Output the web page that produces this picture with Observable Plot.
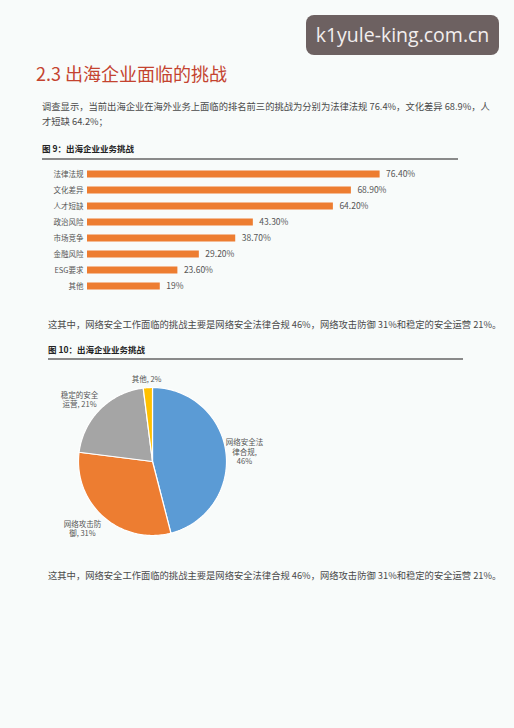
<!DOCTYPE html>
<html><head><meta charset="utf-8">
<script src="https://cdn.jsdelivr.net/npm/d3@7"></script>
<script src="https://cdn.jsdelivr.net/npm/@observablehq/plot@0.6"></script>
<style>
html,body{margin:0;padding:0;}
body{width:514px;height:728px;background:#f8fbfa;position:relative;overflow:hidden;font-family:"Noto Sans CJK SC","Noto Sans",sans-serif;}
.abs{position:absolute;white-space:nowrap;}
.wm{left:306px;top:15px;width:193px;height:40px;background:#6d6161;border-radius:8px;color:#f2eeee;font-family:"Open Sans",sans-serif;font-size:19.5px;line-height:40px;text-align:center;}
.h2{left:36px;top:60px;color:#c4432f;font-size:18px;line-height:26px;}
.p{color:#4a4a4a;font-size:9.3px;line-height:15px;}
.ft{color:#222;font-size:8.5px;font-weight:bold;line-height:12px;}
.rule{height:1.5px;background:#8a8a8a;}
</style></head><body>
<div class="abs wm">k1yule-king.com.cn</div>
<div class="abs h2">2.3 出海企业面临的挑战</div>
<div class="abs p" style="left:42px;top:99px;">调查显示，当前出海企业在海外业务上面临的排名前三的挑战为分别为法律法规 76.4%，文化差异 68.9%，人<br>才短缺 64.2%；</div>
<div class="abs ft" style="left:42px;top:142px;">图 9：出海企业业务挑战</div>
<div class="abs rule" style="left:42px;top:158px;width:416px;"></div>
<div id="bar" class="abs" style="left:30px;top:160px;"></div>
<div class="abs p" style="left:48px;top:317px;">这其中，网络安全工作面临的挑战主要是网络安全法律合规 46%，网络攻击防御 31%和稳定的安全运营 21%。</div>
<div class="abs ft" style="left:48px;top:343px;">图 10：出海企业业务挑战</div>
<div class="abs rule" style="left:48px;top:358px;width:415px;"></div>
<div id="pie" class="abs" style="left:30px;top:365px;"></div>
<div class="abs p" style="left:48px;top:568px;">这其中，网络安全工作面临的挑战主要是网络安全法律合规 46%，网络攻击防御 31%和稳定的安全运营 21%。</div>
<script>
// ---- data ----
const barCategories = ["法律法规","文化差异","人才短缺","政治风险","市场竞争","金融风险","ESG要求","其他"];
const barValues = [76.4, 68.9, 64.2, 43.3, 38.7, 29.2, 23.6, 19];
const barLabels = ["76.40%","68.90%","64.20%","43.30%","38.70%","29.20%","23.60%","19%"];

const pieNames = ["网络安全法律合规","网络攻击防御","稳定的安全运营","其他"];
const pieValues = [46, 31, 21, 2];
const pieLabels = ["网络安全法\n律合规,\n46%","网络攻击防\n御, 31%","稳定的安全\n运营, 21%","其他, 2%"];

// ---- styles / layout ----
const font = '"Noto Sans CJK SC","Noto Sans",sans-serif';
const pieColors = ["#5b9bd5","#ed7d31","#a5a5a5","#ffc000"];
// label placement: angle (deg, clockwise from top) and radius factor
const pieLabelPlace = [[83.8,1.25],[226.3,1.31],[310.4,1.294],[355.9,1.125]];

const barData = barCategories.map((c,i)=>({cat:c, value:barValues[i], label:barLabels[i]}));
const bar = Plot.plot({
  width:440, height:140, marginLeft:57, marginRight:0, marginTop:5, marginBottom:6,
  x:{domain:[0,100], axis:null},
  y:{domain:barCategories, padding:0, axis:null},
  style:{background:"transparent", fontFamily:font, color:"#555"},
  marks:[
    Plot.barX(barData,{x:"value", y:"cat", fill:"#ed7d31", insetTop:4.5, insetBottom:4.5}),
    Plot.text(barData,{x:"value", y:"cat", text:"label", dx:6, textAnchor:"start", fill:"#555", fontSize:8.5}),
    Plot.axisY({tickSize:0, tickPadding:4, fontSize:7.5, label:null})
  ]
});
document.getElementById("bar").append(bar);

// pie
const arcs = d3.pie().sort(null)(pieValues);
const N = 90;
const piePts = [];
arcs.forEach((a,i)=>{
  piePts.push({name:pieNames[i], x:0, y:0});
  for(let k=0;k<=N;k++){
    const t = a.startAngle + (a.endAngle-a.startAngle)*k/N;
    piePts.push({name:pieNames[i], x:Math.sin(t), y:Math.cos(t)});
  }
});
const labelData = pieNames.map((n,i)=>{
  const t = pieLabelPlace[i][0]*Math.PI/180, r = pieLabelPlace[i][1];
  return {name:n, text:pieLabels[i], x:r*Math.sin(t), y:r*Math.cos(t)};
});
const R = 74, W = 300, H = 195, cx = 122, cy = 96;
const pie = Plot.plot({
  width:W, height:H, margin:0,
  x:{domain:[-cx/R,(W-cx)/R], range:[0,W], axis:null},
  y:{domain:[-(H-cy)/R, cy/R], range:[H,0], axis:null},
  color:{domain:pieNames, range:pieColors},
  style:{background:"transparent", fontFamily:font},
  marks:[
    Plot.line(piePts,{x:"x", y:"y", z:"name", fill:"name", stroke:"#fff", strokeWidth:1.2, curve:"linear-closed"}),
    Plot.text(labelData,{x:"x", y:"y", text:"text", fill:"#555", fontSize:7.5, lineHeight:1.3})
  ]
});
document.getElementById("pie").append(pie);
</script>
</body></html>
